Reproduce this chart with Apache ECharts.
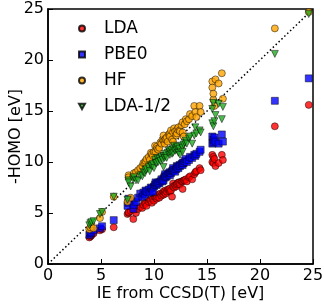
<!DOCTYPE html>
<html><head><meta charset="utf-8">
<script src="https://cdn.jsdelivr.net/npm/echarts@6/dist/echarts.min.js"></script>
<style>html,body{margin:0;padding:0;background:#fff}#c{width:324px;height:304px}</style>
</head><body><div id="c"></div>
<script>
// IE from CCSD(T) [eV] for each molecule
var ieCCSD = [3.9,4.0,4.1,4.3,4.9,5.1,6.2,
 7.5,7.6,7.6,7.8,8.05,8.1,8.3,8.5,8.7,8.9,9.0,9.15,9.2,9.3,9.5,9.6,9.7,9.8,9.9,10.0,10.1,10.15,10.25,10.3,10.4,10.5,10.6,10.7,10.8,10.9,10.9,11.0,11.05,11.1,11.2,11.3,11.4,11.5,11.5,11.6,11.7,11.8,11.8,11.9,12.0,12.1,12.15,12.2,12.3,12.4,12.45,12.6,12.7,12.7,12.8,12.9,13.0,13.1,13.3,13.4,13.6,13.8,13.9,14.0,14.3,14.4,
 15.5,15.5,15.6,15.6,15.7,15.8,16.1,16.4,16.5,
 21.4,24.6];
var ldaHomo = [2.6,2.7,2.8,3.0,3.3,3.4,3.6,
 4.9,5.0,5.1,5.2,4.4,5.3,5.0,5.4,5.6,5.5,5.8,6.0,5.9,5.7,6.1,6.3,6.2,6.0,6.4,6.2,6.6,6.5,6.4,6.6,6.8,6.5,6.9,6.7,6.9,6.8,7.1,7.0,7.2,6.9,7.1,7.3,7.3,7.1,7.4,7.2,6.6,7.9,7.6,7.5,7.7,7.6,7.8,7.9,8.0,8.0,7.8,8.1,8.1,7.35,8.2,8.2,8.3,8.1,8.5,8.6,8.3,8.8,9.0,9.1,9.4,9.2,
 10.7,10.0,9.9,10.5,10.3,9.6,9.9,10.7,10.2,
 13.5,15.6];
var pbe0Homo = [2.85,3.0,3.1,3.3,3.5,3.7,4.3,
 5.7,6.0,6.4,6.2,5.4,5.8,6.1,6.5,6.9,6.6,7.0,6.8,7.2,7.1,7.3,7.0,7.5,7.4,7.1,7.6,7.8,8.0,7.75,7.9,8.0,7.9,8.1,8.3,8.1,8.4,8.2,8.6,8.8,8.5,8.6,8.8,8.9,8.7,9.0,8.9,9.1,9.2,9.4,9.2,9.05,9.3,9.6,9.5,9.4,9.7,9.6,9.8,9.9,9.7,9.9,10.1,10.3,10.0,10.2,10.5,10.4,10.7,10.6,10.8,11.0,11.2,
 12.5,11.8,11.9,12.2,12.4,12.0,11.8,12.7,12.0,
 16.0,18.2];
var hfHomo = [3.4,3.6,3.9,3.5,4.5,5.1,6.6,
 6.1,8.7,8.5,6.5,8.6,8.9,9.0,9.2,9.4,9.6,9.9,9.9,10.1,10.3,10.5,10.2,10.9,10.8,10.6,11.0,11.6,11.0,11.5,11.3,11.2,11.4,11.9,11.8,12.2,12.1,12.6,11.8,12.2,12.3,12.4,12.0,12.7,12.8,12.5,13.1,12.2,12.0,12.9,13.3,13.0,12.6,12.8,13.2,13.4,13.1,13.0,13.6,13.9,12.9,12.5,13.7,14.2,14.0,14.2,14.7,14.5,15.5,14.9,14.4,15.5,14.9,
 17.9,17.3,16.1,16.7,15.5,18.1,17.7,18.7,16.2,
 23.1,24.7];
var ldaHalfHomo = [3.8,4.0,4.1,4.2,4.9,5.1,6.6,
 6.3,8.2,8.0,7.6,8.3,8.5,8.2,8.2,8.7,8.6,9.0,8.9,9.2,9.3,9.5,9.1,9.7,9.6,9.8,9.4,10.2,9.9,9.9,10.4,10.0,10.3,10.1,10.5,10.2,9.5,10.6,10.4,10.6,10.8,10.4,10.9,11.1,10.7,11.0,11.2,10.8,10.9,11.3,11.6,11.1,11.2,11.4,11.5,10.9,11.3,10.7,11.6,11.4,11.0,11.7,11.9,12.1,11.8,12.3,12.5,11.8,12.6,13.4,12.8,13.1,12.9,
 15.2,13.8,13.5,15.8,14.0,14.6,15.7,14.2,15.4,
 20.6,24.5];
var diagX = [0,25];
var diagY = [0,25];
var axisTicks = [0,5,10,15,20,25];

function pts(ys){ return ieCCSD.map(function(x,i){ return [x, ys[i]]; }); }
var font = 'DejaVu Sans';
var chart = echarts.init(document.getElementById('c'), null, {renderer:'canvas'});
var edge = {borderColor:'#000', borderWidth:0.6};
chart.setOption({
  animation:false,
  backgroundColor:'#fff',
  grid:{left:48, right:11, top:9, bottom:40, show:true, borderColor:'#000', borderWidth:1.5,
        containLabel:false, outerBoundsMode:'none'},
  legend:{
    orient:'vertical', left:73, top:14, itemWidth:6, itemHeight:6, itemGap:7,
    data:[{name:'LDA'},{name:'PBE0'},{name:'HF'},
          {name:'LDA-1/2', icon:'path://M0,0L10,0L5,9Z'}],
    textStyle:{fontFamily:font, fontSize:17, color:'#000', lineHeight:19, padding:[0,0,0,14]}
  },
  xAxis:{
    type:'value', min:0, max:25, interval:5,
    name:'IE from CCSD(T) [eV]', nameLocation:'middle', nameGap:22, nameMoveOverlap:false,
    nameTextStyle:{fontFamily:font, fontSize:16, color:'#000'},
    axisLine:{lineStyle:{color:'#000', width:1.5}},
    axisTick:{inside:true, length:5, lineStyle:{color:'#000', width:1}},
    axisLabel:{fontFamily:font, fontSize:16, color:'#000', margin:4,
      formatter:function(v){ return axisTicks.indexOf(v)>=0 ? String(v) : ''; }},
    splitLine:{show:false}
  },
  yAxis:{
    type:'value', min:0, max:25, interval:5,
    name:'-HOMO [eV]', nameLocation:'middle', nameGap:24, nameMoveOverlap:false,
    nameTextStyle:{fontFamily:font, fontSize:16, color:'#000'},
    axisLine:{lineStyle:{color:'#000', width:1.5}},
    axisTick:{inside:true, length:5, lineStyle:{color:'#000', width:1}},
    axisLabel:{fontFamily:font, fontSize:16, color:'#000', margin:4},
    splitLine:{show:false}
  },
  series:[
    {type:'line', data:diagX.map(function(x,i){return [x, diagY[i]];}), symbol:'none', silent:true,
     lineStyle:{color:'#000', width:1.5, type:[1.5,2.5]}, z:1},
    {name:'LDA', type:'scatter', symbol:'circle', symbolSize:7, data:pts(ldaHomo),
     itemStyle:Object.assign({color:'#ff0000'}, edge), z:2},
    {name:'PBE0', type:'scatter', symbol:'rect', symbolSize:7, data:pts(pbe0Homo),
     itemStyle:Object.assign({color:'#0000ff'}, edge), z:3},
    {name:'HF', type:'scatter', symbol:'circle', symbolSize:7, data:pts(hfHomo),
     itemStyle:Object.assign({color:'#ffa500'}, edge), z:4},
    {name:'LDA-1/2', type:'scatter', symbol:'triangle', symbolRotate:180, symbolSize:7, data:pts(ldaHalfHomo),
     itemStyle:Object.assign({color:'#22aa22'}, edge), z:5}
  ]
});
</script></body></html>
